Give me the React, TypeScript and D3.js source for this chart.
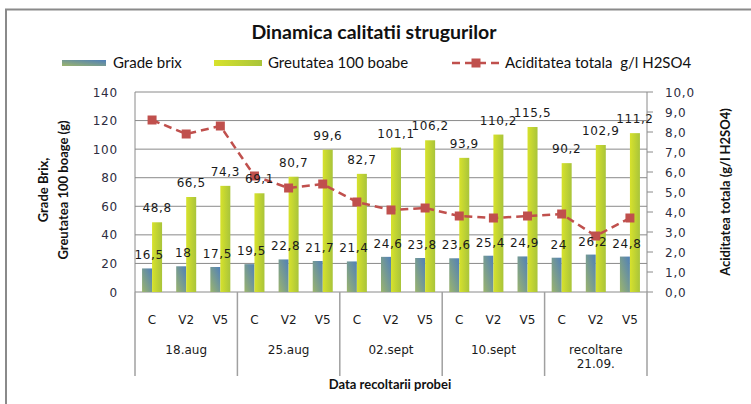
import React from "react";
import * as d3 from "d3";

const categories = ["C", "V2", "V5", "C", "V2", "V5", "C", "V2", "V5", "C", "V2", "V5", "C", "V2", "V5"];
const groups = [["18.aug"], ["25.aug"], ["02.sept"], ["10.sept"], ["recoltare", "21.09."]];
const brix = [16.5, 18, 17.5, 19.5, 22.8, 21.7, 21.4, 24.6, 23.8, 23.6, 25.4, 24.9, 24, 26.2, 24.8];
const greutate = [48.8, 66.5, 74.3, 69.1, 80.7, 99.6, 82.7, 101.1, 106.2, 93.9, 110.2, 115.5, 90.2, 102.9, 111.2];
const aciditate = [8.6, 7.9, 8.3, 5.8, 5.2, 5.4, 4.5, 4.1, 4.2, 3.8, 3.7, 3.8, 3.9, 2.8, 3.7];
const leftTicks = [0, 20, 40, 60, 80, 100, 120, 140];
const rightTicks = [0, 1, 2, 3, 4, 5, 6, 7, 8, 9, 10];

const W = 751;
const H = 404;
const plot = { left: 135, right: 647, top: 92, bottom: 292 };

const fmt = (v: number) => String(v).replace(".", ",");

const App = () => {
    const x = d3
        .scaleBand<number>()
        .domain(d3.range(categories.length))
        .range([plot.left, plot.right]);
    const yL = d3.scaleLinear().domain([0, 140]).range([plot.bottom, plot.top]);
    const yR = d3.scaleLinear().domain([0, 10]).range([plot.bottom, plot.top]);
    const barW = 10;
    const cx = (i: number) => (x(i) as number) + x.bandwidth() / 2;

    const line = d3
        .line<number>()
        .x((d, i) => cx(i))
        .y((d) => yR(d));

    const groupW = (plot.right - plot.left) / groups.length;
    const numFont = "'DejaVu Sans', Verdana, sans-serif";
    const textFont = "Lato, 'Open Sans', sans-serif";

    return (
        <svg width={W} height={H} style={{ position: "absolute", left: 0, top: 0 }}>
            <defs>
                <linearGradient id="gBrix" x1="0" y1="1" x2="1" y2="0">
                    <stop offset="0" stopColor="#9cb56c" />
                    <stop offset="1" stopColor="#4f7fba" />
                </linearGradient>
                <linearGradient id="gGreen" x1="0" y1="0" x2="1" y2="0">
                    <stop offset="0" stopColor="#d7e22c" />
                    <stop offset="1" stopColor="#a9c43a" />
                </linearGradient>
            </defs>
            <rect x={0} y={0} width={W} height={H} fill="#fff" />
            <rect x={6} y={9.5} width={900} height={600} fill="none" stroke="#8a8a8a" strokeWidth={2} />

            <text x={374} y={39} textAnchor="middle" fontFamily={textFont} fontWeight="bold" fontSize={19.5} fill="#111">
                Dinamica calitatii strugurilor
            </text>

            {/* legend */}
            <rect x={62} y={60} width={44} height={6} fill="url(#gBrix)" />
            <text x={113} y={68} fontFamily={textFont} fontSize={15} fill="#111">Grade brix</text>
            <rect x={214} y={60} width={48} height={6} fill="url(#gGreen)" />
            <text x={268} y={68} fontFamily={textFont} fontSize={15} fill="#111">Greutatea 100 boabe</text>
            <line x1={452} x2={500} y1={63} y2={63} stroke="#c0504d" strokeWidth={2.5} strokeDasharray="8,5" />
            <rect x={471.5} y={58.5} width={9} height={9} fill="#c0504d" />
            <text x={505} y={68} fontFamily={textFont} fontSize={15} fill="#111">{"Aciditatea totala\u00a0 g/l H2SO4"}</text>

            {/* gridlines */}
            {leftTicks.map((t) => (
                <line key={"g" + t} x1={plot.left} x2={plot.right} y1={yL(t)} y2={yL(t)} stroke="#8a8a8a" strokeWidth={1} />
            ))}
            <line x1={plot.left} x2={plot.left} y1={plot.top} y2={plot.bottom} stroke="#8a8a8a" />
            <line x1={plot.right} x2={plot.right} y1={plot.top} y2={plot.bottom} stroke="#8a8a8a" />

            {/* left ticks */}
            {leftTicks.map((t) => (
                <text key={"l" + t} x={118} y={yL(t) + 4.5} textAnchor="end" fontFamily={numFont} fontSize={12} letterSpacing={0.8} fill="#2d2d40">
                    {t}
                </text>
            ))}
            {/* right ticks */}
            {rightTicks.map((t) => (
                <g key={"r" + t}>
                    <line x1={plot.right} x2={plot.right + 6} y1={yR(t)} y2={yR(t)} stroke="#8a8a8a" />
                    <text x={665} y={yR(t) + 4.5} fontFamily={numFont} fontSize={12} letterSpacing={0.8} fill="#2d2d40">
                        {t.toFixed(1).replace(".", ",")}
                    </text>
                </g>
            ))}

            {/* bars */}
            {brix.map((v, i) => (
                <rect key={"b" + i} x={cx(i) - barW} y={yL(v)} width={barW} height={plot.bottom - yL(v)} fill="url(#gBrix)" />
            ))}
            {greutate.map((v, i) => (
                <rect key={"w" + i} x={cx(i)} y={yL(v)} width={barW} height={plot.bottom - yL(v)} fill="url(#gGreen)" />
            ))}

            {/* line */}
            <path d={line(aciditate) || ""} fill="none" stroke="#c0504d" strokeWidth={2.5} strokeDasharray="8,5" />
            {aciditate.map((v, i) => (
                <rect key={"m" + i} x={cx(i) - 4.5} y={yR(v) - 4.5} width={9} height={9} fill="#c0504d" />
            ))}

            {/* data labels */}
            {brix.map((v, i) => (
                <text key={"bl" + i} x={cx(i) - 3} y={yL(v) - 9} textAnchor="middle" fontFamily={numFont} fontSize={12} letterSpacing={0.6} fill="#1a1a1a">
                    {fmt(v)}
                </text>
            ))}
            {greutate.map((v, i) => (
                <text key={"wl" + i} x={cx(i) + barW / 2} y={yL(v) - 10} textAnchor="middle" fontFamily={numFont} fontSize={12} letterSpacing={0.6} fill="#1a1a1a">
                    {fmt(v)}
                </text>
            ))}

            {/* category axis */}
            {d3.range(groups.length + 1).map((g) => (
                <line key={"s" + g} x1={plot.left + g * groupW} x2={plot.left + g * groupW} y1={plot.bottom} y2={376} stroke="#a0a0a0" strokeWidth={1.5} />
            ))}
            {categories.map((c, i) => (
                <text key={"c" + i} x={cx(i)} y={324} textAnchor="middle" fontFamily={numFont} fontSize={12} fill="#1a1a1a">
                    {c}
                </text>
            ))}
            {groups.map((g, gi) =>
                g.map((lbl, li) => (
                    <text key={"gr" + gi + li} x={plot.left + (gi + 0.5) * groupW} y={354 + li * 14} textAnchor="middle" fontFamily={numFont} fontSize={12} fill="#1a1a1a">
                        {lbl}
                    </text>
                ))
            )}

            {/* axis titles */}
            <text x={390} y={389} textAnchor="middle" fontFamily={textFont} fontWeight="bold" fontSize={13} fill="#111">
                Data recoltarii probei
            </text>
            <g transform="translate(48,190) rotate(-90)">
                <text x={0} y={0} textAnchor="middle" fontFamily={textFont} fontWeight="bold" fontSize={13} fill="#111">Grade Brix,</text>
                <text x={0} y={20} textAnchor="middle" fontFamily={textFont} fontWeight="bold" fontSize={13} fill="#111">Greutatea 100 boage (g)</text>
            </g>
            <g transform="translate(730,192) rotate(-90)">
                <text x={0} y={0} textAnchor="middle" fontFamily={textFont} fontWeight="bold" fontSize={13} fill="#111">Aciditatea totala (g/l H2SO4)</text>
            </g>
        </svg>
    );
};

export default App;
